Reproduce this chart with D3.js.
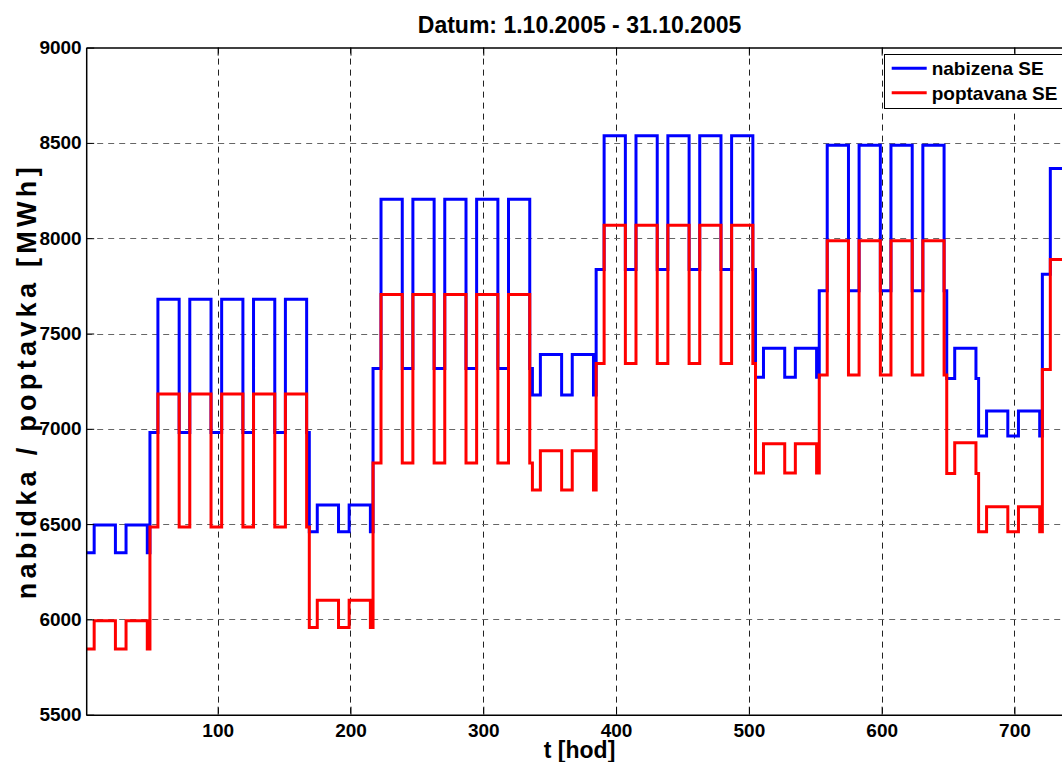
<!DOCTYPE html>
<html>
<head>
<meta charset="utf-8">
<script src="https://cdn.jsdelivr.net/npm/d3@7"></script>
<style>
  html, body { margin: 0; padding: 0; background: #fff; overflow: hidden; }
  svg { display: block; }
  text { font-family: "Liberation Sans", Arial, Helvetica, sans-serif; font-weight: bold; fill: #000; }
</style>
</head>
<body>
<svg id="chart" width="1062" height="762"></svg>
<script>
// Daily levels for October 2005 (MWh); peak hours use the *Peak arrays,
// night / late-evening hours use the *OffPeak arrays.
const offeredPeak = [
  6495, 6495,
  7680, 7680, 7680, 7680, 7680,
  6600, 6600,
  8205, 8205, 8205, 8205, 8205,
  7390, 7390,
  8537, 8537, 8537, 8537, 8537,
  7422, 7422,
  8488, 8488, 8488, 8488,
  7422,
  7093, 7093,
  8366
];
const offeredOffPeak = [
  6350, 6350,
  6980, 6980, 6980, 6980, 6980,
  6460, 6460,
  7317, 7317, 7317, 7317, 7317,
  7177, 7177,
  7836, 7836, 7836, 7836, 7836,
  7270, 7270,
  7724, 7724, 7724, 7724,
  7264,
  6962, 6962,
  7811
];
const demandedPeak = [
  5993, 5993,
  7182, 7182, 7182, 7182, 7182,
  6100, 6100,
  7705, 7705, 7705, 7705, 7705,
  6885, 6885,
  8068, 8068, 8068, 8068, 8068,
  6922, 6922,
  7986, 7986, 7986, 7986,
  6927,
  6591, 6591,
  7888
];
const demandedOffPeak = [
  5845, 5845,
  6485, 6485, 6485, 6485, 6485,
  5958, 5958,
  6820, 6820, 6820, 6820, 6820,
  6679, 6679,
  7343, 7343, 7343, 7343, 7343,
  6768, 6768,
  7282, 7282, 7282, 7282,
  6766,
  6460, 6460,
  7311
];
// First and last hour of the daily peak block (hour-of-day 1..24)
const peakHours = [7, 22];

const xTicks = [100, 200, 300, 400, 500, 600, 700];
const yTicks = [5500, 6000, 6500, 7000, 7500, 8000, 8500, 9000];
const xDomain = [1, 744];
const yDomain = [5500, 9000];

const titleText = "Datum: 1.10.2005 - 31.10.2005";
const xLabel = "t [hod]";
const yLabel = "nabidka / poptavka [MWh]";
const seriesNames = ["nabizena SE", "poptavana SE"];
const seriesColors = ["#0000ff", "#ff0000"];

// Hourly table built from the daily levels
function hourly(peak, off) {
  const rows = [];
  peak.forEach((p, d) => {
    for (let h = 1; h <= 24; h++) {
      rows.push({ t: d * 24 + h, v: (h >= peakHours[0] && h <= peakHours[1]) ? p : off[d] });
    }
  });
  return rows;
}
const offered = hourly(offeredPeak, offeredOffPeak);
const demanded = hourly(demandedPeak, demandedOffPeak);

const svg = d3.select("#chart");
const plot = { left: 86.2, right: 1072.9, top: 47.6, bottom: 714.7 };

const x = d3.scaleLinear().domain(xDomain).range([plot.left, plot.right]);
const y = d3.scaleLinear().domain(yDomain).range([plot.bottom, plot.top]);

const tickFont = 19;
const labelFont = 23;

// Grid
const grid = svg.append("g");
grid.selectAll("line.gx").data(xTicks).join("line")
  .attr("x1", d => Math.round(x(d)) + 0.5).attr("x2", d => Math.round(x(d)) + 0.5)
  .attr("y1", plot.top).attr("y2", plot.bottom)
  .attr("stroke", "#222").attr("stroke-width", 1).attr("stroke-dasharray", "6,5");
grid.selectAll("line.gy").data(yTicks.filter(d => d > yDomain[0] && d < yDomain[1])).join("line")
  .attr("y1", d => Math.round(y(d)) + 0.5).attr("y2", d => Math.round(y(d)) + 0.5)
  .attr("x1", plot.left).attr("x2", plot.right)
  .attr("stroke", "#666").attr("stroke-width", 1).attr("stroke-dasharray", "6,5");

// Series (stairs)
const line = d3.line().x(d => x(d.t)).y(d => y(d.v)).curve(d3.curveStepAfter);
svg.append("path").datum(offered)
  .attr("d", line).attr("fill", "none")
  .attr("stroke", seriesColors[0]).attr("stroke-width", 3).attr("stroke-linejoin", "miter");
svg.append("path").datum(demanded)
  .attr("d", line).attr("fill", "none")
  .attr("stroke", seriesColors[1]).attr("stroke-width", 3).attr("stroke-linejoin", "miter");

// Axes (box with inward ticks)
const axisBottom = d3.axisBottom(x).tickValues(xTicks).tickSizeInner(-8).tickSizeOuter(0).tickPadding(8.5)
  .tickFormat(d3.format("d"));
const axisLeft = d3.axisLeft(y).tickValues(yTicks).tickSizeInner(-8).tickSizeOuter(0).tickPadding(4.5)
  .tickFormat(d3.format("d"));
const axisTop = d3.axisTop(x).tickValues(xTicks).tickSizeInner(-8).tickSizeOuter(0).tickFormat("");

const gB = svg.append("g").attr("transform", `translate(0,${plot.bottom})`).call(axisBottom);
const gL = svg.append("g").attr("transform", `translate(${plot.left},0)`).call(axisLeft);
const gT = svg.append("g").attr("transform", `translate(0,${plot.top})`).call(axisTop);
[gB, gL, gT].forEach(g => {
  g.select(".domain").attr("stroke", "#000").attr("stroke-width", 1.5);
  g.selectAll(".tick line").attr("stroke", "#000").attr("stroke-width", 1);
  g.selectAll(".tick text").style("font-size", tickFont + "px")
    .style("font-family", '"Liberation Sans", Arial, sans-serif').style("font-weight", "bold").attr("fill", "#000");
});
gB.selectAll(".tick text").attr("dy", "0.71em");

// Title and axis labels
svg.append("text").attr("x", (plot.left + plot.right) / 2).attr("y", 33)
  .attr("text-anchor", "middle").style("font-size", "23px").text(titleText);
svg.append("text").attr("x", (plot.left + plot.right) / 2).attr("y", 758)
  .attr("text-anchor", "middle").style("font-size", labelFont + "px").text(xLabel);
svg.append("text")
  .attr("transform", `translate(36,${(plot.top + plot.bottom) / 2}) rotate(-90)`)
  .attr("text-anchor", "middle").style("font-size", "27px")
  .style("letter-spacing", "4.3px").text(yLabel);

// Legend
const lg = svg.append("g");
lg.append("rect").attr("x", 884.5).attr("y", 54.5).attr("width", 184).attr("height", 54)
  .attr("fill", "#fff").attr("stroke", "#000").attr("stroke-width", 1);
seriesNames.forEach((name, i) => {
  const ly = 68.3 + i * 24.4;
  lg.append("line").attr("x1", 891.7).attr("x2", 926.7).attr("y1", ly).attr("y2", ly)
    .attr("stroke", seriesColors[i]).attr("stroke-width", 3);
  lg.append("text").attr("x", 931.7).attr("y", ly + 7).style("font-size", tickFont + "px").text(name);
});
</script>
</body>
</html>
